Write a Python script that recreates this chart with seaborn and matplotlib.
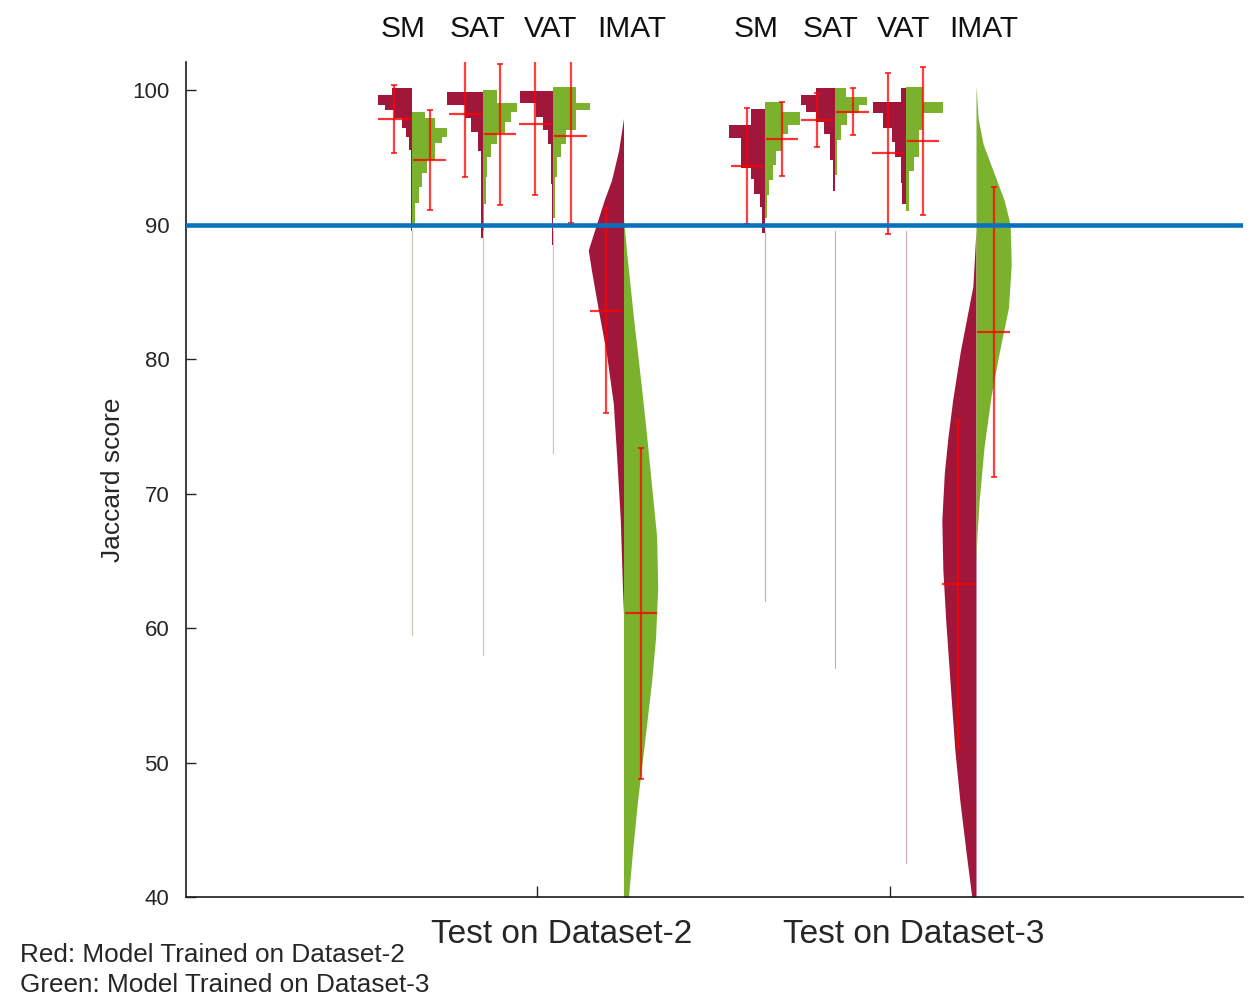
import matplotlib
matplotlib.use("Agg")
import matplotlib.pyplot as plt
import matplotlib.transforms as mtrans
import seaborn as sns

# categories
methods = ["SM", "SAT", "VAT", "IMAT"]
test_sets = ["Test on Dataset-2", "Test on Dataset-3"]
legend_lines = ["Red: Model Trained on Dataset-2", "Green: Model Trained on Dataset-3"]

# x position of every method, a free slot between the two test sets
pos = [1, 2, 3, 4, 6, 7, 8, 9]
set_tick_pos = [2.775, 7.775]

# --- histograms: bin edges (top -> bottom) and relative width
# test on dataset-2
sm_d2_red_edges = [100.15, 99.63, 98.88, 98.51, 97.92, 97.17, 96.51, 95.54, 89.5]
sm_d2_red_w = [0.57, 0.97, 0.77, 0.51, 0.29, 0.17, 0.09, 0.03]
sm_d2_green_edges = [98.4, 97.92, 97.17, 96.51, 96.06, 94.8, 93.83, 92.79, 91.6, 89.8]
sm_d2_green_w = [0.37, 0.66, 1.0, 0.86, 0.66, 0.43, 0.29, 0.2, 0.09]
sat_d2_red_edges = [99.85, 98.88, 97.9, 96.9, 95.5, 89.0]
sat_d2_red_w = [1.0, 0.49, 0.34, 0.14, 0.04]
sat_d2_green_edges = [100.0, 99.0, 98.4, 97.6, 96.8, 96.0, 95.0, 93.5, 91.5, 89.5]
sat_d2_green_w = [0.4, 0.97, 0.8, 0.63, 0.4, 0.23, 0.14, 0.09, 0.04]
vat_d2_red_edges = [99.9, 99.0, 98.0, 97.0, 96.0, 93.0, 88.5]
vat_d2_red_w = [0.94, 0.49, 0.29, 0.14, 0.07, 0.03]
vat_d2_green_edges = [100.2, 99.0, 98.5, 97.0, 96.0, 95.0, 93.5, 90.5]
vat_d2_green_w = [0.66, 1.06, 0.66, 0.37, 0.23, 0.11, 0.06]
# IMAT is finely binned: profile points (score, relative width)
imat_d2_red_y = [97.9, 95.5, 93.3, 91.8, 90.0, 88.1, 86.6, 83.6, 80.5, 76.7, 73.0, 68.0, 63.0, 61.0]
imat_d2_red_w = [0.0, 0.14, 0.34, 0.55, 0.77, 1.0, 0.91, 0.71, 0.49, 0.29, 0.2, 0.09, 0.03, 0.0]
imat_d2_green_y = [90.5, 87.9, 82.9, 77.9, 74.2, 70.5, 66.8, 63.0, 59.3, 56.1, 50.9, 47.2, 43.5, 40.0]
imat_d2_green_w = [0.0, 0.09, 0.29, 0.51, 0.66, 0.8, 0.94, 0.97, 0.91, 0.8, 0.57, 0.4, 0.26, 0.14]

# test on dataset-3
sm_d3_red_edges = [98.6, 97.4, 96.4, 94.2, 93.4, 92.3, 91.3, 89.4]
sm_d3_red_w = [0.37, 1.0, 0.66, 0.37, 0.29, 0.14, 0.06]
sm_d3_green_edges = [99.1, 98.4, 97.4, 96.7, 95.5, 94.4, 93.3, 92.2, 90.5]
sm_d3_green_w = [0.49, 1.0, 0.66, 0.51, 0.34, 0.23, 0.14, 0.06]
sat_d3_red_edges = [100.15, 99.6, 98.9, 98.4, 97.6, 96.7, 94.8, 92.5]
sat_d3_red_w = [0.54, 0.97, 0.83, 0.54, 0.31, 0.14, 0.06]
sat_d3_green_edges = [100.15, 99.5, 98.9, 98.3, 97.4, 96.3, 93.7]
sat_d3_green_w = [0.31, 0.91, 0.69, 0.34, 0.17, 0.06]
vat_d3_red_edges = [100.15, 99.1, 98.3, 97.2, 96.1, 95.0, 93.1, 91.5]
vat_d3_red_w = [0.14, 0.91, 0.63, 0.37, 0.29, 0.14, 0.09]
vat_d3_green_edges = [100.2, 99.1, 98.3, 97.0, 95.0, 94.0, 91.0]
vat_d3_green_w = [0.49, 1.06, 0.49, 0.37, 0.23, 0.09]
imat_d3_red_y = [89.6, 85.4, 80.5, 77.0, 74.1, 71.5, 68.0, 64.3, 60.6, 56.1, 50.9, 47.2, 43.5, 40.0]
imat_d3_red_w = [0.0, 0.09, 0.45, 0.66, 0.8, 0.9, 0.97, 0.94, 0.86, 0.74, 0.6, 0.46, 0.29, 0.12]
imat_d3_green_y = [100.3, 97.9, 96.0, 93.4, 91.8, 90.0, 87.0, 83.8, 80.5, 77.3, 73.5, 69.5, 66.5, 65.0]
imat_d3_green_w = [0.0, 0.06, 0.2, 0.57, 0.8, 0.97, 1.0, 0.92, 0.66, 0.43, 0.23, 0.09, 0.02, 0.0]

# very sparse tails below the small histograms (lowest score reached)
tail_bottom = [59.5, 58.0, 73.0, None, 62.0, 57.0, 42.5, None]

# mean and standard deviation of every distribution
red_mean = [97.85, 98.2, 97.5, 83.6, 94.35, 97.8, 95.3, 63.3]
red_sd = [2.5, 4.65, 5.3, 7.6, 4.3, 2.0, 6.0, 12.2]
green_mean = [94.8, 96.7, 96.6, 61.1, 96.35, 98.4, 96.2, 82.0]
green_sd = [3.7, 5.25, 6.5, 12.3, 2.75, 1.75, 5.5, 10.8]

threshold = 90

red_hists = [(sm_d2_red_edges, sm_d2_red_w), (sat_d2_red_edges, sat_d2_red_w),
             (vat_d2_red_edges, vat_d2_red_w), None,
             (sm_d3_red_edges, sm_d3_red_w), (sat_d3_red_edges, sat_d3_red_w),
             (vat_d3_red_edges, vat_d3_red_w), None]
green_hists = [(sm_d2_green_edges, sm_d2_green_w), (sat_d2_green_edges, sat_d2_green_w),
               (vat_d2_green_edges, vat_d2_green_w), None,
               (sm_d3_green_edges, sm_d3_green_w), (sat_d3_green_edges, sat_d3_green_w),
               (vat_d3_green_edges, vat_d3_green_w), None]
red_profiles = {3: (imat_d2_red_y, imat_d2_red_w), 7: (imat_d3_red_y, imat_d3_red_w)}
green_profiles = {3: (imat_d2_green_y, imat_d2_green_w), 7: (imat_d3_green_y, imat_d3_green_w)}

RED = "#A1173B"
GREEN = "#7BB22D"
TXT = "#262626"
HW = 0.5  # half width of a violin for relative width 1

sns.set_style("ticks")
plt.rcParams["font.family"] = ["Liberation Sans", "DejaVu Sans"]

fig = plt.figure(figsize=(12.6, 10.07), dpi=100)
ax = fig.add_axes([0.1476, 0.1092, 0.8389, 0.8292])


def step_hist(ax, c, edges, w, side, color):
    mids = [(edges[i] + edges[i + 1]) / 2 for i in range(len(w))]
    heights = [edges[i] - edges[i + 1] for i in range(len(w))]
    widths = [side * HW * v for v in w]
    ax.barh(mids, widths, height=heights, left=c, color=color, linewidth=0, zorder=2)


for i, c in enumerate(pos):
    if tail_bottom[i] is not None:
        tc = "#c3cfad" if i < 4 else "#cfb0b8"
        ax.plot([c, c], [89.5, tail_bottom[i]], color=tc, lw=0.9, zorder=1)
    if red_hists[i] is not None:
        step_hist(ax, c, red_hists[i][0], red_hists[i][1], -1, RED)
        step_hist(ax, c, green_hists[i][0], green_hists[i][1], 1, GREEN)
    else:
        ry, rw = red_profiles[i]
        ax.fill_betweenx(ry, [c - HW * v for v in rw], c, color=RED, lw=0, zorder=2)
        gy, gw = green_profiles[i]
        ax.fill_betweenx(gy, c, [c + HW * v for v in gw], color=GREEN, lw=0, zorder=2)

# mean +- sd crosses
for means, sds, off in [(red_mean, red_sd, -0.25), (green_mean, green_sd, 0.25)]:
    xs = [c + off for c in pos]
    ax.errorbar(xs, means, yerr=sds, fmt="none", ecolor=(1, 0, 0, 0.75),
                elinewidth=1.6, capsize=2.5, capthick=1.4, zorder=4)
    ax.hlines(means, [x - 0.23 for x in xs], [x + 0.23 for x in xs],
              colors=[(1, 0, 0, 0.8)], lw=1.6, zorder=4)

ax.axhline(threshold, color="#0A72BD", lw=3.3, zorder=5)

ax.set_xlim(-2.206, 12.787)
ax.set_ylim(40, 102.08)
ax.set_yticks(range(40, 101, 10))
ax.set_xticks(set_tick_pos)
ax.set_xticklabels(test_sets, fontsize=24, color=TXT)
ax.tick_params(axis="y", direction="in", length=7, width=1, labelsize=16,
               labelcolor=TXT, pad=12)
ax.tick_params(axis="x", direction="in", length=8, width=1, pad=16)
shift = mtrans.ScaledTranslation(0.24, 0, fig.dpi_scale_trans)
for lbl in ax.get_xticklabels():
    lbl.set_transform(lbl.get_transform() + shift)
ax.set_ylabel("Jaccard score", fontsize=19, color=TXT, labelpad=5)

sns.despine(ax=ax)
for s in ["left", "bottom"]:
    ax.spines[s].set_color("#1a1a1a")
    ax.spines[s].set_linewidth(1.2)

# method names above each violin (hand placed, slightly off centre)
label_dx = [-0.12, -0.07, -0.03, 0.11]
top = ax.get_xaxis_transform()
for i, c in enumerate(pos):
    ax.text(c + label_dx[i % 4], 1.04, methods[i % 4], transform=top, ha="center",
            va="center", fontsize=21.5, color="#111111", clip_on=False)

fig.text(0.016, 0.0516, legend_lines[0], fontsize=18.8, color=TXT, va="center")
fig.text(0.016, 0.0218, legend_lines[1], fontsize=18.8, color=TXT, va="center")

fig.savefig("out.png", dpi=100)
